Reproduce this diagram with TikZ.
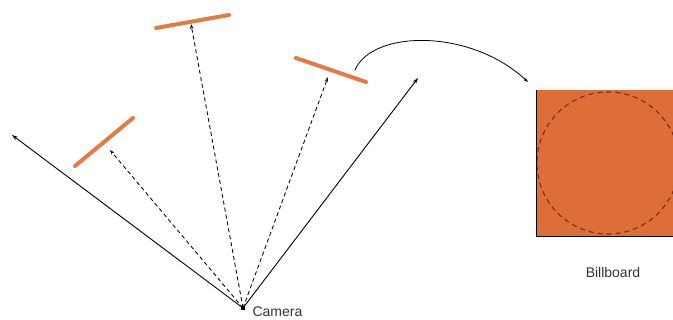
\documentclass[tikz,border=0pt]{standalone}
\usepackage{fontspec}
\setmainfont{Liberation Sans}
\usetikzlibrary{arrows.meta}
\definecolor{bbfill}{RGB}{221,110,55}
\definecolor{bbline}{RGB}{228,122,68}
\definecolor{bbring}{RGB}{110,50,22}
\tikzset{
  ray/.style={-{Stealth[length=6pt,width=4pt]}, line width=0.9pt},
  probe/.style={-{Stealth[length=5pt,width=3.5pt]}, dash pattern=on 4pt off 3pt, line width=0.85pt},
  board/.style={bbline, line width=4pt, line cap=round},
}
\begin{document}
\begin{tikzpicture}[x=1pt,y=-1pt]
\useasboundingbox (0,0) rectangle (673,320);
% billboard square
\fill[bbfill] (536,90) rectangle (673,236);
\begin{scope}
  \clip (536,90) rectangle (673,236);
  \draw[bbring, dash pattern=on 5pt off 4pt, line width=1.1pt] (608,163) circle (71);
\end{scope}
\draw[line width=0.8pt] (536,90) -- (536,236) -- (673,236);
\node[text=black!80] (bblabel) at (613,272) {\fontsize{14}{16}\selectfont Billboard};
% camera
\node[fill, inner sep=2.2pt] (camera) at (243,308) {};
\node[anchor=west, text=black!80] (camlabel) at (249,312) {\fontsize{14}{16}\selectfont Camera};
% quads
\draw[board] (75,166) -- (133,118);
\draw[board] (156,28) -- (229,15);
\draw[board] (296,58) -- (366,82);
\coordinate (farleft) at (12,135);
\coordinate (farright) at (418,78);
\coordinate (hitleft) at (110,150);
\coordinate (hittop) at (191,24);
\coordinate (hitright) at (328,77);
\draw[ray] (camera.center) -- (farleft);
\draw[ray] (camera.center) -- (farright);
\draw[probe] (camera.center) -- (hitleft);
\draw[probe] (camera.center) -- (hittop);
\draw[probe] (camera.center) -- (hitright);
% curved arrow
\coordinate (quadtop) at (355,70);
\coordinate (boardtop) at (528,82);
\draw[-{Stealth[length=5pt,width=3.5pt]}, line width=0.8pt] (quadtop) .. controls (372,30) and (470,28) .. (boardtop);
\end{tikzpicture}
\end{document}
